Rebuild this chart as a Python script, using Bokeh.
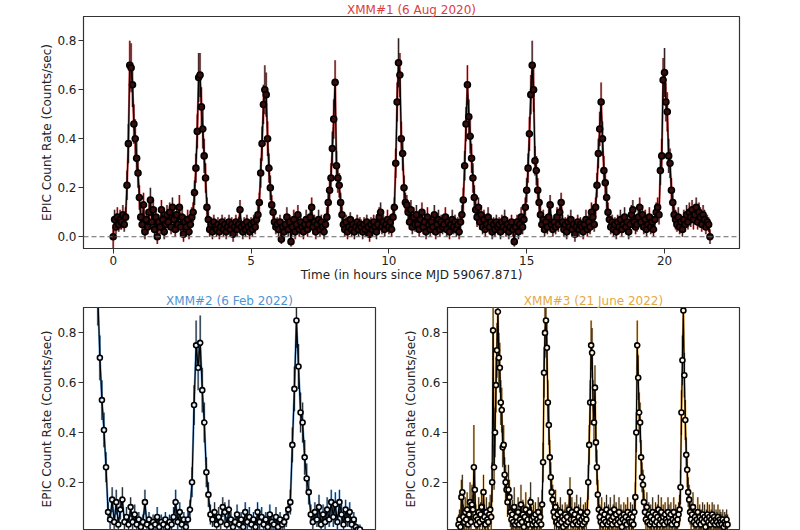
import numpy as np
from bokeh.plotting import figure
from bokeh.layouts import column, row
from bokeh.models import Range1d, Span, ColumnDataSource, FixedTicker, PrintfTickFormatter
from bokeh.embed import file_html
from bokeh.resources import INLINE

# ---------------- data (count rates in counts/sec, 0.05 h bins) ----------------
BIN_H = 0.05

XMM1_TITLE = "XMM#1 (6 Aug 2020)"
XMM1_RATE = [
    0.00, 0.07, 0.04, 0.08, 0.05, 0.07, 0.06, 0.09, 0.05, 0.08, 0.21, 0.38, 0.70, 0.69, 0.62, 0.46, 0.40, 0.32, 0.26, 0.16,
    0.08, 0.05, 0.13, 0.02, 0.07, 0.04, 0.10, 0.15, 0.06, 0.11, 0.03, 0.08, 0.00, 0.06, 0.04, 0.11, 0.07, 0.02, 0.05, 0.09,
    0.06, 0.10, 0.04, 0.12, 0.07, 0.03, 0.09, 0.05, 0.12, 0.04, 0.08, 0.01, 0.06, 0.04, 0.07, 0.02, 0.05, 0.08, 0.10, 0.18,
    0.28, 0.43, 0.65, 0.66, 0.53, 0.44, 0.33, 0.24, 0.12, 0.07, 0.03, 0.05, 0.02, 0.06, 0.04, 0.03, 0.05, 0.02, 0.04, 0.06,
    0.03, 0.05, 0.02, 0.04, 0.06, 0.03, 0.05, 0.01, 0.04, 0.06, 0.03, 0.05, 0.11, 0.04, 0.02, 0.05, 0.03, 0.06, 0.04, 0.02,
    0.05, 0.03, 0.06, 0.04, 0.07, 0.09, 0.14, 0.26, 0.38, 0.54, 0.60, 0.58, 0.40, 0.28, 0.20, 0.13, 0.10, 0.06, 0.04, 0.05,
    0.03, 0.06, -0.01, 0.04, 0.02, 0.05, 0.08, 0.03, 0.06, -0.02, 0.04, 0.07, 0.02, 0.05, 0.09, 0.03, 0.06, 0.04, 0.02, 0.05,
    0.07, 0.03, 0.05, 0.08, 0.12, 0.04, 0.06, 0.02, 0.05, 0.07, 0.03, 0.06, 0.04, 0.02, 0.05, 0.08, 0.14, 0.19, 0.24, 0.36,
    0.48, 0.63, 0.29, 0.24, 0.21, 0.14, 0.09, 0.05, 0.03, 0.06, 0.02, 0.04, 0.07, 0.03, 0.05, 0.02, 0.04, 0.06, 0.03, 0.05,
    0.04, 0.02, 0.05, 0.03, 0.06, 0.04, 0.01, 0.05, 0.03, 0.06, 0.04, 0.02, 0.05, 0.08, 0.10, 0.04, 0.06, 0.03, 0.05, 0.07,
    0.04, 0.06, 0.03, 0.08, 0.12, 0.30, 0.55, 0.71, 0.66, 0.40, 0.34, 0.20, 0.14, 0.13, 0.10, 0.06, 0.11, 0.04, 0.08, 0.05,
    0.09, 0.05, 0.03, 0.07, 0.10, 0.04, 0.06, 0.02, 0.08, 0.05, 0.03, 0.06, 0.04, 0.09, 0.02, 0.05, 0.07, 0.03, 0.06, 0.04,
    0.05, 0.08, 0.03, 0.06, 0.02, 0.05, 0.07, 0.04, 0.06, 0.03, 0.05, 0.02, 0.06, 0.09, 0.15, 0.29, 0.46, 0.62, 0.49, 0.41,
    0.32, 0.24, 0.16, 0.11, 0.08, 0.12, 0.06, 0.09, 0.04, 0.07, 0.03, 0.05, 0.08, 0.04, 0.06, 0.02, 0.05, 0.03, 0.06, 0.04,
    0.05, 0.02, 0.06, 0.04, 0.07, 0.03, 0.05, 0.02, 0.04, 0.06, 0.03, -0.02, 0.04, 0.06, 0.02, 0.05, 0.08, 0.04, 0.07, 0.12,
    0.19, 0.28, 0.42, 0.58, 0.70, 0.60, 0.31, 0.27, 0.19, 0.14, 0.09, 0.05, 0.07, 0.03, 0.06, 0.04, 0.08, 0.13, 0.05, 0.03,
    0.06, 0.04, 0.08, 0.05, 0.10, 0.14, 0.06, 0.03, 0.05, 0.02, 0.06, 0.04, 0.07, 0.03, 0.05, 0.01, 0.04, 0.06, 0.03, 0.05,
    0.04, 0.02, 0.05, 0.07, 0.03, 0.06, 0.04, 0.10, 0.08, 0.05, 0.12, 0.21, 0.34, 0.44, 0.55, 0.40, 0.27, 0.22, 0.16, 0.10,
    0.07, 0.04, 0.06, 0.03, 0.05, 0.02, 0.06, 0.04, 0.07, 0.03, 0.05, 0.08, 0.04, 0.06, 0.02, 0.05, 0.09, 0.11, 0.06, 0.04,
    0.05, 0.08, 0.12, 0.06, 0.09, 0.04, 0.07, 0.03, 0.05, 0.08, 0.04, 0.06, 0.03, 0.07, 0.10, 0.12, 0.09, 0.27, 0.33, 0.64,
    0.67, 0.55, 0.51, 0.33, 0.30, 0.19, 0.14, 0.09, 0.07, 0.05, 0.08, 0.04, 0.06, 0.03, 0.07, 0.05, 0.09, 0.06, 0.10, 0.08,
    0.11, 0.07, 0.09, 0.12, 0.06, 0.10, 0.08, 0.05, 0.09, 0.07, 0.04, 0.06, 0.05, 0.00,
]
# 1-sigma errors in units of 0.01 counts/sec
XMM1_ERR_CS = [
    5, 4, 3, 4, 3, 4, 3, 4, 3, 4, 6, 8, 10, 10, 9, 8, 8, 7, 6, 5,
    4, 3, 5, 3, 4, 3, 4, 5, 3, 4, 3, 4, 3, 3, 3, 4, 4, 3, 3, 4,
    3, 4, 3, 4, 4, 3, 4, 3, 5, 3, 4, 3, 3, 3, 4, 3, 3, 4, 4, 5,
    6, 7, 10, 9, 8, 8, 7, 6, 4, 4, 3, 3, 3, 3, 3, 3, 3, 3, 3, 3,
    3, 3, 3, 3, 3, 3, 3, 3, 3, 3, 3, 3, 4, 3, 3, 3, 3, 3, 3, 3,
    3, 3, 3, 3, 3, 4, 4, 6, 7, 8, 10, 9, 7, 6, 5, 4, 4, 3, 3, 3,
    3, 3, 2, 3, 3, 3, 4, 3, 3, 2, 3, 4, 3, 3, 4, 3, 3, 3, 3, 3,
    4, 3, 3, 4, 4, 3, 3, 3, 3, 4, 3, 3, 3, 3, 3, 4, 5, 5, 6, 7,
    8, 9, 6, 6, 5, 4, 4, 3, 3, 3, 3, 3, 3, 3, 3, 3, 3, 3, 3, 3,
    3, 3, 3, 3, 3, 3, 3, 3, 3, 3, 3, 3, 3, 4, 4, 3, 3, 3, 3, 4,
    3, 3, 3, 4, 4, 6, 8, 10, 9, 7, 7, 5, 4, 4, 4, 3, 4, 3, 4, 3,
    4, 3, 3, 4, 4, 3, 3, 3, 4, 3, 3, 3, 3, 4, 3, 3, 4, 3, 3, 3,
    3, 4, 3, 3, 3, 3, 4, 3, 3, 3, 3, 3, 3, 4, 5, 6, 7, 8, 7, 7,
    6, 6, 5, 4, 4, 4, 3, 4, 3, 4, 3, 3, 4, 3, 3, 3, 3, 3, 3, 3,
    3, 3, 3, 3, 4, 3, 3, 3, 3, 3, 3, 2, 3, 3, 3, 3, 4, 3, 4, 4,
    5, 6, 7, 8, 10, 9, 6, 6, 5, 4, 4, 3, 4, 3, 3, 3, 4, 4, 3, 3,
    3, 3, 4, 3, 4, 4, 3, 3, 3, 3, 3, 3, 4, 3, 3, 3, 3, 3, 3, 3,
    3, 3, 3, 4, 3, 3, 3, 4, 4, 3, 4, 5, 6, 7, 8, 7, 6, 5, 5, 4,
    4, 3, 3, 3, 3, 3, 3, 3, 4, 3, 3, 4, 3, 3, 3, 3, 4, 4, 3, 3,
    3, 4, 4, 3, 4, 3, 4, 3, 3, 4, 3, 3, 3, 4, 4, 4, 4, 6, 7, 9,
    10, 8, 8, 7, 6, 5, 4, 4, 4, 3, 4, 3, 3, 3, 4, 3, 4, 3, 4, 4,
    4, 4, 4, 4, 3, 4, 4, 3, 4, 4, 3, 3, 3, 3,
]

XMM2_TITLE = "XMM#2 (6 Feb 2022)"
XMM2_RATE = [
    0.95, 0.70, 0.53, 0.41, 0.26, 0.08, 0.05, 0.13, 0.04, 0.12, 0.03, 0.09, 0.13, 0.04, 0.06, 0.03, 0.10, 0.04, 0.07, 0.03,
    0.05, 0.02, 0.04, 0.12, 0.03, 0.05, 0.02, 0.04, 0.03, 0.06, 0.02, 0.04, 0.03, 0.05, 0.02, 0.04, 0.03, 0.06, 0.12, 0.04,
    0.08, 0.03, 0.05, 0.02, 0.05, 0.09, 0.20, 0.51, 0.75, 0.66, 0.76, 0.57, 0.44, 0.24, 0.15, 0.07, 0.05, 0.08, 0.03, 0.06,
    0.04, 0.10, 0.08, 0.03, 0.09, 0.05, 0.02, 0.04, 0.07, 0.03, 0.05, 0.02, 0.08, 0.04, 0.06, 0.03, 0.05, 0.02, 0.08, 0.04,
    0.06, 0.03, 0.05, 0.02, 0.07, 0.04, 0.03, 0.06, 0.02, 0.05, 0.03, 0.04, 0.06, 0.09, 0.12, 0.35, 0.575, 0.85, 0.665, 0.48,
    0.44, 0.30, 0.215, 0.16, 0.07, 0.04, 0.08, 0.05, 0.10, 0.03, 0.07, 0.04, 0.09, 0.05, 0.12, 0.06, 0.11, 0.04, 0.12, 0.07,
    0.03, 0.09, 0.05, 0.08, 0.03, 0.05, 0.02, 0.01, 0.01,
]
XMM2_ERR_CS = [
    12, 9, 8, 7, 6, 4, 4, 5, 3, 5, 3, 4, 5, 3, 4, 3, 4, 3, 4, 3,
    3, 3, 3, 5, 3, 3, 3, 3, 3, 4, 3, 3, 3, 3, 3, 3, 3, 4, 5, 3,
    4, 3, 3, 3, 3, 4, 6, 8, 10, 9, 11, 9, 8, 6, 5, 4, 3, 4, 3, 4,
    3, 4, 4, 3, 4, 3, 3, 3, 4, 3, 3, 3, 4, 3, 4, 3, 3, 3, 4, 3,
    4, 3, 3, 3, 4, 3, 3, 4, 3, 3, 3, 3, 4, 4, 5, 7, 9, 11, 9, 8,
    8, 7, 6, 5, 4, 3, 4, 3, 5, 3, 4, 3, 5, 3, 5, 4, 5, 3, 5, 4,
    3, 4, 3, 4, 3, 3, 3, 2, 2,
]

XMM3_TITLE = "XMM#3 (21 June 2022)"
XMM3_RATE = [
    0.03, 0.05, 0.02, 0.14, 0.16, 0.06, 0.04, 0.08, 0.05, 0.09, 0.03, 0.07, 0.12, 0.04, 0.11, 0.09, 0.26, 0.17, 0.06, 0.03,
    0.05, 0.08, 0.04, 0.07, 0.10, 0.05, 0.16, 0.06, 0.03, 0.08, 0.05, 0.04, 0.07, 0.09, 0.06, 0.20, 0.81, 0.26, 0.40, 0.59,
    0.73, 0.885, 0.70, 0.66, 0.52, 0.49, 0.34, 0.35, 0.23, 0.20, 0.17, 0.12, 0.17, 0.14, 0.08, 0.05, 0.07, 0.04, 0.10, 0.03,
    0.06, 0.04, 0.08, 0.03, 0.05, 0.11, 0.04, 0.07, 0.02, 0.06, 0.09, 0.04, 0.05, 0.03, 0.08, 0.12, 0.05, 0.03, 0.06, 0.04,
    0.07, 0.03, 0.05, 0.08, 0.04, 0.06, 0.03, 0.11, 0.28, 0.64, 0.80, 0.85, 0.74, 0.52, 0.43, 0.30, 0.22, 0.16, 0.13, 0.08,
    0.06, 0.10, 0.04, 0.07, 0.03, 0.05, 0.08, 0.04, 0.06, 0.02, 0.05, 0.07, 0.03, 0.06, 0.04, 0.09, 0.16, 0.05, 0.08, 0.03,
    0.05, 0.07, 0.04, 0.09, 0.03, 0.06, 0.04, 0.08, 0.05, 0.03, 0.06, 0.04, 0.07, 0.05, 0.08, 0.20, 0.35, 0.52, 0.75, 0.72,
    0.52, 0.44, 0.58, 0.36, 0.26, 0.15, 0.09, 0.06, 0.04, 0.08, 0.03, 0.05, 0.07, 0.04, 0.09, 0.03, 0.06, 0.04, 0.08, 0.05,
    0.03, 0.06, 0.09, 0.04, 0.07, 0.03, 0.05, 0.08, 0.04, 0.06, 0.02, 0.05, 0.07, 0.04, 0.06, 0.03, 0.08, 0.05, 0.04, 0.07,
    0.04, 0.06, 0.03, 0.08, 0.14, 0.40, 0.75, 0.62, 0.48, 0.44, 0.30, 0.22, 0.19, 0.12, 0.08, 0.05, 0.10, 0.04, 0.07, 0.03,
    0.06, 0.04, 0.08, 0.05, 0.03, 0.07, 0.04, 0.06, 0.09, 0.03, 0.05, 0.08, 0.04, 0.06, 0.03, 0.07, 0.05, 0.04, 0.08, 0.06,
    0.04, 0.07, 0.03, 0.05, 0.08, 0.04, 0.06, 0.03, 0.05, 0.07, 0.09, 0.18, 0.48, 0.69, 0.89, 0.63, 0.45, 0.31, 0.25, 0.16,
    0.13, 0.08, 0.05, 0.07, 0.10, 0.04, 0.06, 0.03, 0.05, 0.08, 0.04, 0.06, 0.03, 0.05, 0.07, 0.04, 0.06, 0.02, 0.05, 0.07,
    0.04, 0.06, 0.03, 0.05, 0.07, 0.04, 0.06, 0.03, 0.05, 0.04, 0.06, 0.03, 0.05, 0.04, 0.03, 0.05, 0.02, 0.04, 0.03, 0.05,
    0.03,
]
XMM3_ERR_CS = [
    4, 4, 3, 7, 7, 5, 4, 6, 5, 7, 4, 6, 8, 4, 8, 6, 17, 9, 5, 4,
    4, 6, 4, 5, 7, 4, 7, 5, 4, 6, 4, 4, 5, 6, 5, 8, 12, 9, 10, 11,
    11, 12, 10, 10, 9, 9, 8, 8, 7, 7, 6, 6, 10, 7, 6, 5, 6, 4, 8, 4,
    5, 4, 6, 4, 5, 8, 4, 6, 4, 5, 7, 4, 5, 4, 6, 8, 5, 4, 5, 4,
    5, 4, 4, 6, 4, 5, 4, 6, 8, 10, 10, 11, 10, 9, 8, 7, 6, 5, 6, 5,
    5, 7, 4, 5, 4, 5, 6, 4, 5, 3, 4, 5, 4, 5, 4, 6, 6, 4, 6, 4,
    4, 5, 4, 6, 4, 5, 4, 6, 4, 4, 5, 4, 5, 4, 5, 7, 8, 9, 10, 10,
    9, 8, 9, 8, 7, 6, 5, 5, 4, 6, 4, 4, 5, 4, 6, 4, 5, 4, 6, 4,
    4, 5, 6, 4, 5, 4, 4, 6, 4, 5, 3, 4, 5, 4, 5, 4, 6, 4, 4, 5,
    4, 5, 4, 6, 6, 8, 10, 9, 8, 8, 7, 6, 6, 5, 5, 4, 6, 4, 5, 4,
    5, 4, 6, 4, 4, 5, 4, 5, 6, 4, 4, 6, 4, 5, 4, 5, 4, 4, 6, 5,
    4, 5, 4, 4, 6, 4, 5, 4, 4, 5, 6, 7, 9, 10, 11, 9, 8, 7, 7, 6,
    6, 5, 4, 5, 6, 4, 5, 4, 4, 6, 4, 5, 4, 4, 5, 4, 5, 3, 4, 5,
    4, 5, 4, 4, 5, 4, 5, 4, 4, 4, 5, 4, 4, 4, 4, 4, 3, 4, 4, 4,
    4,
]

Y_TICKS = [0.0, 0.2, 0.4, 0.6, 0.8]
X_TICKS_TOP = [0, 5, 10, 15, 20]
Y_LABEL = "EPIC Count Rate (Counts/sec)"
X_LABEL = "Time (in hours since MJD 59067.871)"

FONT = "DejaVu Sans"
AX_COL = "#333333"


def make_source(rate, err_cs):
    r = np.array(rate, dtype=float)
    e = np.array(err_cs, dtype=float) / 100.0
    n = min(len(r), len(e))
    r, e = r[:n], e[:n]
    t = BIN_H * np.arange(n)
    return ColumnDataSource(dict(t=t, r=r, lo=r - e, hi=r + e))


def panel(title, title_color, rate, err_cs, color, marker_fill, msize, width, height,
          x_range, y_range, borders, show_x):
    left, right, top, bottom = borders
    p = figure(width=width, height=height, x_range=Range1d(*x_range), y_range=Range1d(*y_range),
               output_backend="svg", toolbar_location=None,
               x_axis_location="below" if show_x else None,
               min_border_left=left, min_border_right=right,
               min_border_top=top, min_border_bottom=bottom,
               title=title)
    p.title.text_color = title_color
    p.title.text_font = FONT
    p.title.text_font_size = "12px"
    p.title.text_font_style = "normal"
    p.title.align = "center"
    p.title.standoff = 0
    p.grid.visible = False
    p.outline_line_color = AX_COL
    p.outline_line_width = 1.2
    p.background_fill_color = "white"
    p.border_fill_color = "white"

    for ax in p.axis:
        ax.axis_line_color = AX_COL
        ax.major_tick_line_color = AX_COL
        ax.major_tick_out = 5
        ax.major_tick_in = 0
        ax.minor_tick_line_color = None
        ax.major_label_text_font = FONT
        ax.major_label_text_font_size = "12px"
        ax.major_label_text_color = "#222222"
        ax.axis_label_text_font = FONT
        ax.axis_label_text_font_size = "12px"
        ax.axis_label_text_font_style = "normal"
        ax.axis_label_text_color = "#222222"
        ax.major_label_standoff = 2
        ax.axis_label_standoff = 0

    p.yaxis.ticker = FixedTicker(ticks=Y_TICKS)
    p.yaxis.formatter = PrintfTickFormatter(format="%.1f")
    p.yaxis.axis_label = Y_LABEL
    if show_x:
        p.xaxis.ticker = FixedTicker(ticks=X_TICKS_TOP)
        p.xaxis.axis_label = X_LABEL

    p.add_layout(Span(location=0, dimension="width", line_color="#666666",
                      line_dash="5 3", line_width=1))

    src = make_source(rate, err_cs)
    p.segment(x0="t", y0="lo", x1="t", y1="hi", source=src, line_color=color,
              line_width=2.2, line_alpha=0.55)
    p.line(x="t", y="r", source=src, line_color=color, line_width=2.2, line_alpha=0.75)
    p.segment(x0="t", y0="lo", x1="t", y1="hi", source=src, line_color="#111111",
              line_width=1.1, line_alpha=0.85)
    p.line(x="t", y="r", source=src, line_color="black", line_width=1.2)
    p.scatter(x="t", y="r", source=src, size=msize, marker="circle", fill_color=marker_fill,
              line_color="black", line_width=1.6)
    return p


p1 = panel(XMM1_TITLE, "#d9403f", XMM1_RATE, XMM1_ERR_CS, "#d62728", "#3a0c0c", 6,
           800, 284, (-1.078, 22.72), (-0.048, 0.899), (83, 61, 13, 36), True)
p2 = panel(XMM2_TITLE, "#4f94d4", XMM2_RATE, XMM2_ERR_CS, "#4a95dc", "#e8f1fa", 5,
           400, 246, (-0.35, 6.78), (0.006, 0.902), (83, 25, 23, 0), False)
p3 = panel(XMM3_TITLE, "#e6a843", XMM3_RATE, XMM3_ERR_CS, "#f0a83a", "#fff3e0", 5,
           400, 246, (-0.573, 14.62), (0.006, 0.902), (47, 61, 23, 0), False)

layout = column(p1, row(p2, p3, spacing=0), spacing=0)

with open("out.html", "w") as f:
    f.write(file_html(layout, INLINE))
